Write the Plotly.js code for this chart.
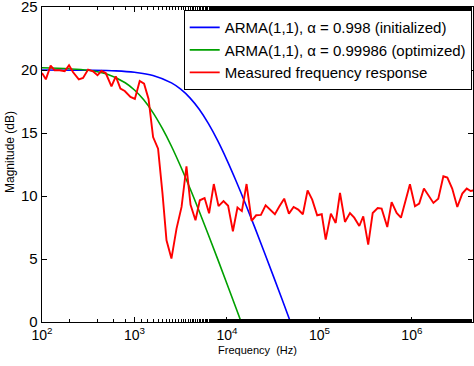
<!DOCTYPE html>
<html>
<head>
<meta charset="utf-8">
<script src="https://cdn.plot.ly/plotly-3.0.1.min.js"></script>
<style>
html,body{margin:0;padding:0;background:#fff;overflow:hidden;}
#chart{width:474px;height:366px;}
</style>
</head>
<body>
<div id="chart"></div>
<script>
// ARMA(1,1), alpha = 0.998 (initialized)
const freqInit = [100, 316, 631, 1000, 1585, 2512, 3162, 3981, 5012, 6310, 7943, 10000, 12589, 15849, 19953, 25119, 31623, 39811, 50119];
const magInit  = [20.0, 19.98, 19.93, 19.82, 19.57, 18.98, 18.48, 17.79, 16.88, 15.74, 14.39, 12.85, 11.17, 9.39, 7.53, 5.62, 3.68, 1.72, -0.26];

// ARMA(1,1), alpha = 0.99986 (optimized)
const freqOpt = [100, 316, 501, 794, 1000, 1259, 1585, 1995, 2512, 3162, 3981, 5012, 6310, 7943, 10000, 12589, 15849];
const magOpt  = [20.18, 19.98, 19.68, 18.99, 18.41, 17.63, 16.62, 15.38, 13.95, 12.34, 10.61, 8.79, 6.91, 4.99, 3.04, 1.07, -0.91];

// Measured frequency response
const freqMeas = [100, 110, 124, 137, 155, 176, 196, 216, 250, 278, 315, 356, 398, 439, 489, 564, 628, 705, 785, 905,
  1010, 1140, 1270, 1420, 1590, 1800, 2010, 2220, 2510, 2850, 3230, 3650, 4040, 4570, 5090, 5730, 6410, 7210, 8110, 9180,
  10300, 11600, 13000, 14500, 16300, 18500, 20700, 23300, 26200, 29500, 33000, 37100, 41600, 46800, 52600, 59000, 66200, 74500, 83600, 94600,
  106000, 117000, 133000, 150000, 167000, 189000, 214000, 238000, 270000, 298000, 337000, 377000, 427000, 471000, 542000, 604000, 684000, 762000, 853000, 953000,
  1080000, 1200000, 1350000, 1520000, 1710000, 1930000, 2190000, 2420000, 2730000, 3100000, 3510000, 3920000, 4330000, 4700000];
const magMeas = [19.76, 19.26, 20.35, 19.98, 19.98, 19.9, 20.37, 19.84, 19.26, 19.37, 20.03, 19.9, 19.58, 19.92, 19.76, 18.7, 19.5, 18.52, 18.33, 17.86,
  17.7, 19.13, 18.92, 17.7, 14.68, 13.76, 10.19, 6.48, 5.03, 7.41, 9.13, 12.36, 9.3, 8.07, 9.66, 9.84, 8.63, 10.95, 9.2, 9.6,
  9.22, 7.2, 9.08, 8.8, 10.95, 8.03, 8.47, 8.5, 9.26, 8.9, 8.55, 9.2, 9.79, 8.6, 9.13, 8.92, 8.55, 10.45, 9.71, 8.47,
  8.55, 6.54, 8.6, 7.86, 10.24, 7.94, 8.65, 8.28, 7.62, 8.39, 6.14, 8.65, 9.05, 9.0, 7.54, 9.52, 8.65, 8.28, 9.6, 10.93,
  9.19, 9.4, 10.59, 10.0, 9.45, 9.79, 11.56, 11.46, 10.59, 9.13, 10.19, 10.59, 10.4, 10.45];

const xTickVals = [100, 1000, 10000, 100000, 1000000];
const xTickText = ['10<sup>2</sup>', '10<sup>3</sup>', '10<sup>4</sup>', '10<sup>5</sup>', '10<sup>6</sup>'];
const yTickVals = [0, 5, 10, 15, 20, 25];

const traces = [
  {x: freqInit, y: magInit, type: 'scatter', mode: 'lines', name: 'ARMA(1,1), α = 0.998 (initialized)',
   line: {color: '#0000ff', width: 1.6, shape: 'spline'}},
  {x: freqOpt, y: magOpt, type: 'scatter', mode: 'lines', name: 'ARMA(1,1), α = 0.99986 (optimized)',
   line: {color: '#00a000', width: 1.6, shape: 'spline'}},
  {x: freqMeas, y: magMeas, type: 'scatter', mode: 'lines', name: 'Measured frequency response',
   line: {color: '#ff0000', width: 1.9}}
];

const font = 'Liberation Sans, Arial, Helvetica, sans-serif';
const layout = {
  width: 474, height: 366,
  margin: {l: 42, r: 1, t: 7, b: 44},
  paper_bgcolor: '#fff', plot_bgcolor: '#fff',
  font: {family: font, color: '#000', size: 14},
  showlegend: true,
  legend: {x: 0.997, xanchor: 'right', y: 0.99, yanchor: 'top', bgcolor: '#fff',
           bordercolor: '#000', borderwidth: 1, font: {family: font, size: 15, color: '#000'},
           tracegroupgap: 0, itemwidth: 30},
  xaxis: {type: 'log', range: [2, 6.661], tickvals: xTickVals, ticktext: xTickText,
          ticks: 'inside', ticklen: 5, tickcolor: '#000', showline: true, linecolor: '#000', linewidth: 1.3,
          mirror: 'ticks', showgrid: false, zeroline: false, ticklabeloverflow: 'allow',
          minor: {ticks: 'inside', ticklen: 3, tickcolor: '#000', showgrid: false},
          tickfont: {family: font, size: 14, color: '#000'},
          title: {text: 'Frequency  (Hz)', font: {family: font, size: 11, color: '#000'}, standoff: 4}},
  yaxis: {range: [0, 25], tickvals: yTickVals, ticks: 'inside', ticklen: 5, tickcolor: '#000',
          showline: true, linecolor: '#000', linewidth: 1.3, mirror: 'ticks', showgrid: false, zeroline: false,
          ticklabeloverflow: 'allow',
          tickfont: {family: font, size: 15, color: '#000'}},
  annotations: [
    {text: 'Magnitude (dB)', xref: 'paper', yref: 'paper', x: -0.074, y: 0.54, xanchor: 'center', yanchor: 'middle',
     textangle: -90, showarrow: false, font: {family: font, size: 12, color: '#000'}}
  ]
};

Plotly.newPlot('chart', traces, layout, {staticPlot: true, displayModeBar: false});
</script>
</body>
</html>
